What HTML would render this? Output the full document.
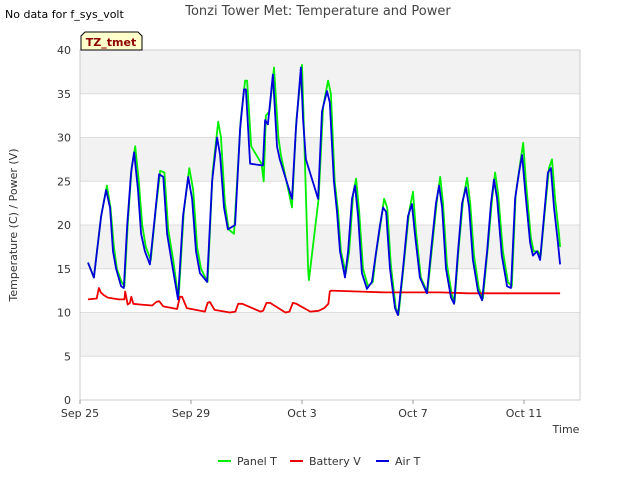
<!DOCTYPE html>
<html><head><meta charset="utf-8"><style>
body{margin:0;background:#fff;font-family:"Liberation Sans","DejaVu Sans",sans-serif}
svg text{font-family:"DejaVu Sans","Liberation Sans",sans-serif}
</style></head><body>
<svg id="chart" width="640" height="480" xmlns="http://www.w3.org/2000/svg">
<rect width="640" height="480" fill="#fff"/>
<g id="bands"></g>
<g id="grid"></g>
<g id="series"></g>
<g id="axes"></g>
<text x="5" y="18" font-size="11" fill="#000">No data for f_sys_volt</text>
<text x="318" y="15" font-size="13" fill="#444" text-anchor="middle">Tonzi Tower Met: Temperature and Power</text>
<g><path d="M81,50 L81,36 L85,32 L138,32 L142,36 L142,50 Z" fill="#ffffcc" stroke="#000" stroke-width="1"/><text x="111" y="46" font-size="11" font-weight="bold" fill="#8b0000" text-anchor="middle">TZ_tmet</text></g>
<text x="566" y="433" font-size="11" fill="#333" text-anchor="middle">Time</text>
<text transform="translate(17,225) rotate(-90)" font-size="11" fill="#333" text-anchor="middle">Temperature (C) / Power (V)</text>
<g id="legend"></g>
</svg>
<script>
const yTicks=[0,5,10,15,20,25,30,35,40];
const xTickDays=[0,4,8,12,16];
const xTickLabels=["Sep 25","Sep 29","Oct 3","Oct 7","Oct 11"];
const airDays=[0.29,0.5,0.76,0.94,1.08,1.19,1.3,1.48,1.58,1.7,1.84,1.95,2.09,2.2,2.34,2.52,2.7,2.85,3,3.14,3.32,3.53,3.71,3.9,4.04,4.18,4.32,4.58,4.76,4.94,5.05,5.19,5.33,5.59,5.77,5.91,5.98,6.13,6.59,6.67,6.77,6.95,7.1,7.2,7.64,7.78,7.96,8.04,8.14,8.58,8.72,8.9,9.0,9.15,9.26,9.37,9.55,9.66,9.8,9.91,10.02,10.16,10.34,10.52,10.63,10.81,10.92,11.03,11.17,11.35,11.46,11.64,11.82,11.96,12.07,12.25,12.5,12.68,12.83,12.94,13.05,13.19,13.37,13.48,13.62,13.77,13.91,14.02,14.16,14.34,14.49,14.67,14.81,14.92,15.03,15.2,15.39,15.53,15.68,15.82,15.93,16.04,16.22,16.32,16.47,16.58,16.72,16.86,16.97,17.08,17.22,17.3];
const airVals=[15.7,14,21,24,22,17,15,13,12.8,20,26,28.3,24,19,17,15.5,21,25.8,25.5,19,15.5,11.5,21,25.5,23,17,14.5,13.5,25,30,28,22,19.5,20,31,35.5,35.5,27,26.8,32,31.5,37.2,29,27.5,23,31,38,32,27.5,23,33,35.3,34,25,21.5,17,14,17,23,24.5,21,14.5,12.7,13.5,16,20,22,21.5,15,10.5,9.7,15,21,22.4,19,14,12.2,18,22.5,24.5,22,15,11.7,11,17,22.5,24.3,22,16,12.5,11.4,17,22.5,25.2,23,16.5,13,12.8,23,26,28,24,18,16.5,17,16,21,26,26.5,22,18,15.5];
const panelDays=[0.29,0.5,0.76,0.97,1.1,1.22,1.33,1.5,1.6,1.72,1.86,1.99,2.12,2.24,2.37,2.55,2.72,2.89,3.04,3.18,3.36,3.55,3.74,3.94,4.08,4.22,4.36,4.6,4.78,4.98,5.08,5.22,5.36,5.55,5.79,5.95,6.02,6.17,6.54,6.62,6.7,6.83,6.99,7.15,7.24,7.64,7.8,8.0,8.08,8.22,8.25,8.6,8.76,8.94,9.04,9.18,9.3,9.4,9.58,9.7,9.84,9.95,10.06,10.2,10.38,10.55,10.66,10.85,10.96,11.07,11.2,11.38,11.48,11.67,11.86,12.0,12.1,12.28,12.52,12.72,12.87,12.98,13.08,13.22,13.4,13.5,13.65,13.81,13.95,14.06,14.2,14.37,14.52,14.7,14.85,14.96,15.07,15.24,15.42,15.56,15.7,15.86,15.97,16.07,16.25,16.35,16.5,16.6,16.75,16.9,17.01,17.12,17.26,17.3];
const panelVals=[15.7,14,21,24.5,22,17.5,15,13.5,13,20,26.5,29,25,20,17.5,16,21.5,26.2,26,19.5,16,11.5,21.5,26.5,24,17.5,15,13.5,26,31.8,30,22.5,19.5,19,32,36.5,36.5,29,27,25,32.5,33,38,30,28,22,32,38.3,30,15,13.7,23,33.5,36.5,35,25,21.5,17,14.5,17,23.5,25.3,21.5,15,13,13.5,16.5,20.5,23,22,15.5,10.5,9.8,15.5,21.5,23.8,19.5,14,12.3,18.5,23,25.5,22.5,15.5,12,11.2,17.5,23,25.4,22.5,16.5,12.8,11.6,17.5,23,26,23.5,17,13.5,13,23.5,27,29.4,25,18.5,17,17,16.5,21.5,26.5,27.5,23,19,17.5];
const batDays=[0.29,0.6,0.68,0.75,0.85,1.0,1.4,1.6,1.63,1.72,1.8,1.85,1.92,2.2,2.6,2.75,2.85,3.0,3.5,3.6,3.68,3.85,4.5,4.6,4.68,4.85,5.4,5.6,5.7,5.85,6.5,6.6,6.72,6.85,7.4,7.55,7.67,7.8,8.3,8.6,8.8,8.95,9.0,9.05,10,11,12,13,14,15,16,17.3];
const batVals=[11.5,11.6,12.8,12.3,12,11.7,11.5,11.5,12.4,10.9,11.1,11.8,11,10.9,10.8,11.2,11.3,10.7,10.4,11.8,11.8,10.5,10.1,11.1,11.2,10.3,10,10.1,11,11,10.1,10.2,11.1,11.1,10,10.1,11.1,11,10.1,10.2,10.5,11,12.4,12.5,12.4,12.3,12.3,12.3,12.2,12.2,12.2,12.2];
const X0=80,X1=580,Y0=400,Y1=50;
const xs=d=>X0+d*27.75, ys=v=>Y0-(v/40)*(Y0-Y1);
const NS="http://www.w3.org/2000/svg";
function mk(t,a,p){const e=document.createElementNS(NS,t);for(const k in a)e.setAttribute(k,a[k]);p.appendChild(e);return e;}
const bands=document.getElementById('bands'),grid=document.getElementById('grid'),axes=document.getElementById('axes'),series=document.getElementById('series'),legend=document.getElementById('legend');
mk('rect',{x:X0,y:Y1,width:X1-X0,height:Y0-Y1,fill:'#fff'},bands);
for(let i=1;i<yTicks.length-1;i+=2){const r=mk('rect',{x:X0,y:ys(yTicks[i+1]),width:X1-X0,height:ys(yTicks[i])-ys(yTicks[i+1]),fill:'#f2f2f2'},bands);

}
yTicks.forEach(v=>{const l=mk('line',{x1:X0,x2:X1,y1:ys(v),y2:ys(v),stroke:'#ddd','stroke-width':1},grid);


const t=mk('text',{x:X0-9,y:ys(v)+4,'font-size':11,fill:'#333','text-anchor':'end'},axes);t.textContent=v;

});
mk('rect',{x:X0,y:Y1,width:X1-X0,height:Y0-Y1,fill:'none',stroke:'#ccc'},axes);
xTickDays.forEach((d,i)=>{mk('line',{x1:xs(d),x2:xs(d),y1:Y0,y2:Y0+4,stroke:'#999'},axes);
const t=mk('text',{x:xs(d),y:Y0+17,'font-size':11,fill:'#333','text-anchor':'middle'},axes);t.textContent=xTickLabels[i];

});
function line(days,vals,color,name){const d=days.map((x,i)=>(i?'L':'M')+xs(x).toFixed(1)+','+ys(vals[i]).toFixed(1)).join('');
const p=mk('path',{d:d,fill:'none',stroke:color,'stroke-width':1.8,'stroke-linejoin':'round'},series);

}
line(panelDays,panelVals,'#00ee00','panel-t-line');
line(batDays,batVals,'#ee0000','battery-v-line');
line(airDays,airVals,'#0000dd','air-t-line');
[['Panel T','#00ee00',218],['Battery V','#ee0000',290],['Air T','#0000dd',376]].forEach(e=>{const g=mk('g',{},legend);


mk('line',{x1:e[2],x2:e[2]+13,y1:461,y2:461,stroke:e[1],'stroke-width':2},g);
const t=mk('text',{x:e[2]+19,y:465,'font-size':11,fill:'#333'},g);t.textContent=e[0];});
</script>
</body></html>
